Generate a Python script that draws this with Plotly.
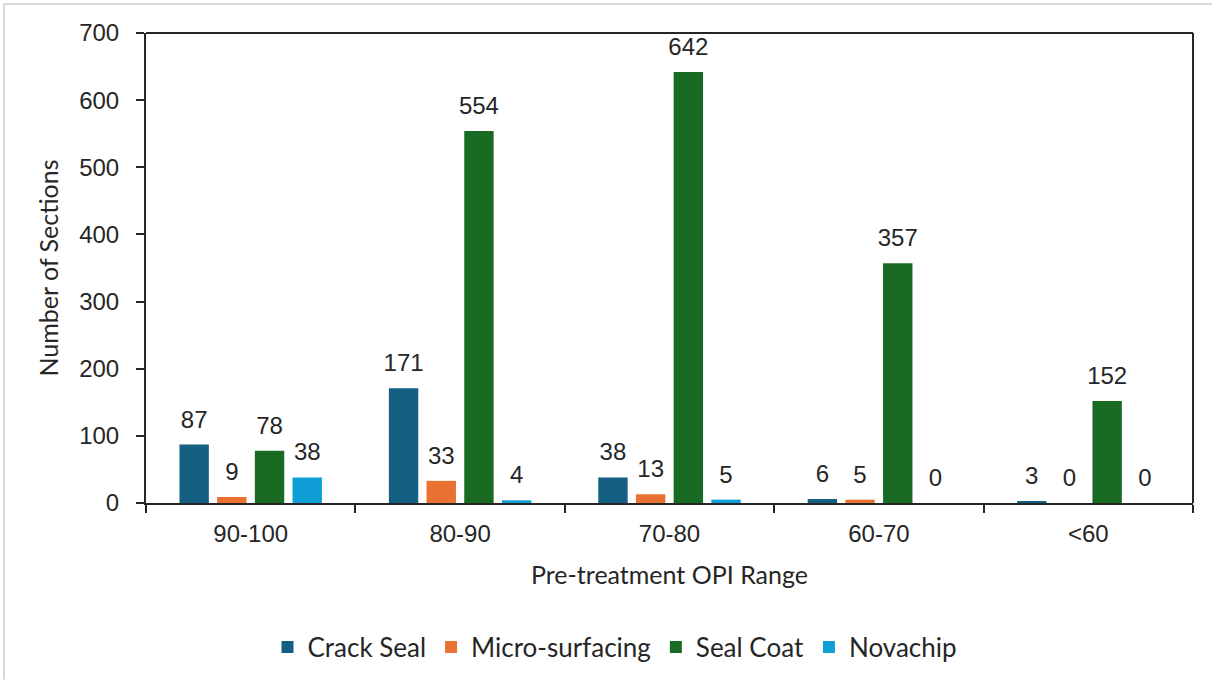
import plotly.graph_objects as go

categories = ["90-100", "80-90", "70-80", "60-70", "<60"]
series_names = ["Crack Seal", "Micro-surfacing", "Seal Coat", "Novachip"]
crack_seal = [87, 171, 38, 6, 3]
micro_surfacing = [9, 33, 13, 5, 0]
seal_coat = [78, 554, 642, 357, 152]
novachip = [38, 4, 5, 0, 0]
colors = ["#156082", "#E97132", "#196B24", "#0F9ED5"]
y_ticks = [0, 100, 200, 300, 400, 500, 600, 700]

values = [crack_seal, micro_surfacing, seal_coat, novachip]
TXT = "#262626"
NUMFONT = "Liberation Sans, Arial"
TITLEFONT = "Lato, Noto Sans"

fig = go.Figure()
for i, (name, vals) in enumerate(zip(series_names, values)):
    fig.add_trace(go.Bar(
        x=categories, y=vals, name=name,
        marker=dict(color=colors[i], line=dict(width=0)),
        offsetgroup=str(i),
    ))
for i, (name, vals) in enumerate(zip(series_names, values)):
    fig.add_trace(go.Scatter(
        x=categories, y=vals, mode="markers+text",
        text=[str(v) for v in vals], textposition="top center",
        textfont=dict(family=NUMFONT, size=24, color=TXT),
        marker=dict(size=16, color="rgba(0,0,0,0)"),
        offsetgroup=str(i), showlegend=False, hoverinfo="skip",
        cliponaxis=False,
    ))

W, H = 1212, 681
ml, mr, mt, mb = 146, 19, 33, 177
pw, ph = W - ml - mr, H - mt - mb
frame_x = (4 - ml) / pw
frame_y = (H - mb - 4) / ph

fig.update_layout(
    width=W, height=H,
    margin=dict(l=ml, r=mr, t=mt, b=mb),
    paper_bgcolor="white", plot_bgcolor="white",
    barmode="group", bargap=0.28, bargroupgap=0.22,
    scattermode="group", scattergap=0.28,
    font=dict(family=NUMFONT, color=TXT),
    showlegend=True,
    legend=dict(orientation="h", x=(615 - ml) / pw, xanchor="center",
                y=-(647 - (H - mb)) / ph, yanchor="middle",
                font=dict(family=TITLEFONT, size=26, color=TXT),
                itemwidth=30, tracegroupgap=0),
    xaxis=dict(
        type="category", categoryorder="array", categoryarray=categories,
        tickson="boundaries", ticks="outside", ticklen=8, tickwidth=2, tickcolor=TXT,
        showline=True, linecolor=TXT, linewidth=2, mirror=False,
        tickfont=dict(family=NUMFONT, size=24, color=TXT), ticklabelstandoff=8,
        title=dict(text="Pre-treatment OPI Range", font=dict(family=TITLEFONT, size=25, color=TXT), standoff=21),
        showgrid=False, zeroline=False,
    ),
    yaxis=dict(
        range=[0, 700], tickvals=y_ticks, ticks="outside", ticklen=8, tickwidth=2,
        tickcolor=TXT, showline=True, linecolor=TXT, linewidth=2,
        tickfont=dict(family=NUMFONT, size=24, color=TXT), ticklabelstandoff=12,
        title=dict(text="Number of Sections", font=dict(family=TITLEFONT, size=25, color=TXT), standoff=13),
        showgrid=False, zeroline=False,
    ),
    shapes=[
        dict(type="line", xref="paper", yref="paper", x0=0, x1=1, y0=1, y1=1,
             line=dict(color=TXT, width=2)),
        dict(type="line", xref="paper", yref="paper", x0=1, x1=1, y0=0, y1=1,
             line=dict(color=TXT, width=2)),
        dict(type="line", xref="paper", yref="paper",
             x0=frame_x, x1=frame_x, y0=frame_y, y1=-mb / ph,
             line=dict(color="#d9d9d9", width=2)),
        dict(type="line", xref="paper", yref="paper",
             x0=frame_x, x1=(W - ml) / pw, y0=frame_y, y1=frame_y,
             line=dict(color="#d9d9d9", width=2)),
    ],
)

fig.write_html("out.html", post_script="document.body.style.margin='0';",
               config={"displayModeBar": False})
